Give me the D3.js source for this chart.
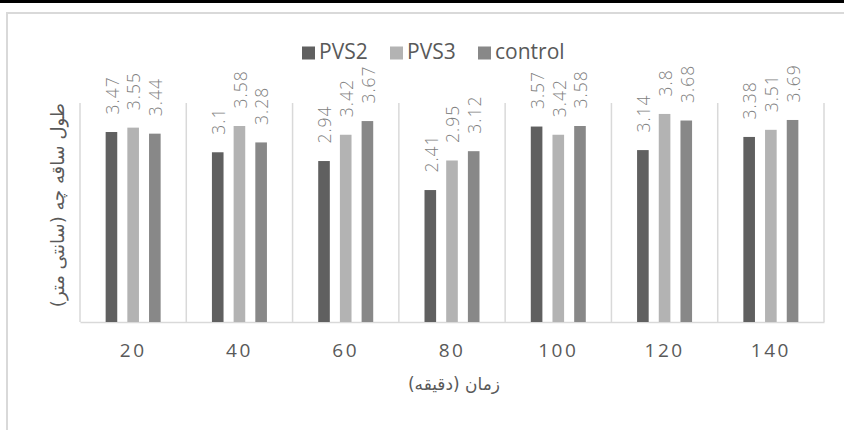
<!DOCTYPE html>
<html>
<head>
<meta charset="utf-8">
<script src="https://cdn.jsdelivr.net/npm/d3@7"></script>
<style>
  html, body { margin: 0; padding: 0; background: #fff; }
  svg { display: block; }
</style>
</head>
<body>
<svg id="chart" width="844" height="430"></svg>
<script>
const categories = ["20", "40", "60", "80", "100", "120", "140"];
const seriesNames = ["PVS2", "PVS3", "control"];
const pvs2 = [3.47, 3.1, 2.94, 2.41, 3.57, 3.14, 3.38];
const pvs3 = [3.55, 3.58, 3.42, 2.95, 3.42, 3.8, 3.51];
const control = [3.44, 3.28, 3.67, 3.12, 3.58, 3.68, 3.69];
const seriesValues = [pvs2, pvs3, control];
const colors = ["#606060", "#b3b3b3", "#888888"];
const yTitle = "طول ساقه چه (سانتی متر)";
const xTitle = "زمان (دقیقه)";

const svg = d3.select("#chart");

// top dark band
svg.append("rect").attr("x", 0).attr("y", 0).attr("width", 844).attr("height", 3).attr("fill", "#000");
// card border
svg.append("rect").attr("x", 7).attr("y", 13).attr("width", 900).attr("height", 500)
  .attr("fill", "none").attr("stroke", "#d9d9d9").attr("stroke-width", 2);

const x0 = d3.scaleBand().domain(categories).range([80, 824]).padding(0);
const groupW = 55;
const x1 = d3.scaleBand().domain(seriesNames).range([0, groupW]).paddingInner(0.465).paddingOuter(0);
const y = d3.scaleLinear().domain([0, 4]).range([322, 103]);

// vertical separators
const bounds = categories.map(c => x0(c)).concat([x0.range()[1]]);
svg.append("g").selectAll("line").data(bounds).join("line")
  .attr("x1", d => d).attr("x2", d => d)
  .attr("y1", y(4)).attr("y2", y(0))
  .attr("stroke", "#d9d9d9").attr("stroke-width", 1.5);

// x axis
const xAxis = svg.append("g").attr("transform", `translate(0,${y(0)})`)
  .call(d3.axisBottom(x0).tickSize(0));
xAxis.select(".domain").attr("stroke", "#d9d9d9").attr("stroke-width", 1.5);
xAxis.selectAll("text")
  .attr("dy", null).attr("y", 35)
  .attr("fill", "#595959")
  .style("font-family", "'Open Sans', sans-serif")
  .style("font-size", "19px")
  .style("letter-spacing", "2.5px");

// bars
const rows = categories.map((c, i) => ({ cat: c, vals: seriesNames.map((s, j) => ({ s, j, v: seriesValues[j][i] })) }));
const groups = svg.append("g").selectAll("g").data(rows).join("g")
  .attr("transform", d => `translate(${x0(d.cat) + x0.bandwidth() / 2 - groupW / 2},0)`);
groups.selectAll("rect").data(d => d.vals).join("rect")
  .attr("x", d => x1(d.s)).attr("width", x1.bandwidth())
  .attr("y", d => y(d.v)).attr("height", d => y(0) - y(d.v))
  .attr("fill", d => colors[d.j]);
groups.selectAll("text").data(d => d.vals).join("text")
  .attr("transform", d => `translate(${x1(d.s) + x1.bandwidth() / 2 + 1},${y(d.v) - 17.5}) rotate(-90)`)
  .attr("dy", "0.36em")
  .attr("text-anchor", "start")
  .attr("fill", "#7f7f7f")
  .style("font-family", "'Open Sans', sans-serif")
  .style("font-weight", 300)
  .style("font-size", "17.5px")
  .style("letter-spacing", "1px")
  .text(d => String(d.v));

// legend
const legend = svg.append("g").selectAll("g").data(seriesNames).join("g")
  .attr("transform", (d, i) => `translate(${302 + i * 88},0)`);
legend.append("rect").attr("x", 0).attr("y", 46.5).attr("width", 13).attr("height", 13)
  .attr("fill", (d, i) => colors[i]);
legend.append("text").attr("x", 17).attr("y", 58.5)
  .attr("fill", "#595959")
  .style("font-family", "'Open Sans', sans-serif")
  .style("font-size", "21px")
  .text(d => d);

// axis titles
svg.append("text")
  .attr("x", 454).attr("y", 390)
  .attr("text-anchor", "middle")
  .attr("fill", "#595959")
  .style("font-family", "'DejaVu Sans', sans-serif")
  .style("font-size", "17px")
  .text(xTitle);

svg.append("text")
  .attr("transform", "translate(58,205) rotate(-90)")
  .attr("text-anchor", "middle")
  .attr("dy", "0.35em")
  .attr("fill", "#595959")
  .style("font-family", "'DejaVu Sans', sans-serif")
  .style("font-size", "18px")
  .text(yTitle);
</script>
</body>
</html>
